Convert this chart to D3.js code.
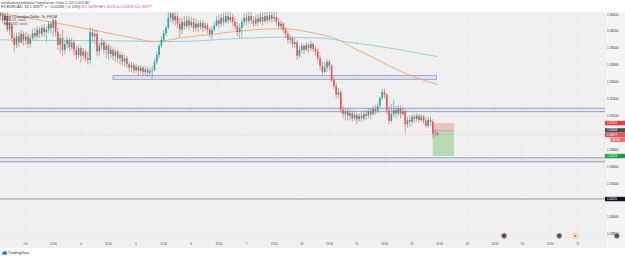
<!DOCTYPE html>
<html>
<head>
<meta charset="utf-8">
<script src="https://cdn.jsdelivr.net/npm/d3@7"></script>
<style>
	html, body { margin: 0; padding: 0; background: #fff; }
	svg { display: block; font-family: "Liberation Sans", Arial, sans-serif; }
</style>
</head>
<body>
<div id="chart"></div>
<script>
// hourly candles, first one is index -11 (before the Oct label), [open, high, low, close]
const firstIndex = -11;
const candles = [
	[1.3638,1.3643,1.3633,1.3641],[1.3641,1.3643,1.3629,1.3633],[1.3633,1.3642,1.3627,1.3638],[1.3638,1.3643,1.3619,1.3622],
	[1.3622,1.3631,1.3616,1.3627],[1.3627,1.3630,1.3607,1.3612],[1.3612,1.3617,1.3596,1.3604],[1.3604,1.3618,1.3600,1.3614],
	[1.3614,1.3619,1.3601,1.3607],[1.3607,1.3622,1.3605,1.3617],[1.3617,1.3620,1.3603,1.3610],
	// Oct 3
	[1.3610,1.3619,1.3604,1.3614],[1.3614,1.3618,1.3600,1.3605],[1.3605,1.3616,1.3601,1.3612],[1.3612,1.3623,1.3609,1.3618],
	[1.3618,1.3624,1.3610,1.3614],[1.3614,1.3626,1.3611,1.3622],[1.3622,1.3625,1.3612,1.3617],[1.3617,1.3627,1.3613,1.3624],
	[1.3624,1.3629,1.3614,1.3619],[1.3619,1.3626,1.3607,1.3622],[1.3622,1.3632,1.3618,1.3629],[1.3629,1.3631,1.3617,1.3624],
	[1.3624,1.3636,1.3614,1.3633],[1.3633,1.3635,1.3614,1.3619],[1.3619,1.3624,1.3598,1.3604],[1.3604,1.3617,1.3594,1.3612],
	[1.3612,1.3622,1.3590,1.3598],[1.3598,1.3610,1.3593,1.3605],[1.3605,1.3614,1.3600,1.3610],[1.3610,1.3612,1.3596,1.3601],
	[1.3601,1.3612,1.3598,1.3607],[1.3607,1.3610,1.3591,1.3598],[1.3598,1.3603,1.3586,1.3592],[1.3592,1.3604,1.3588,1.3600],
	// Oct 4
	[1.3600,1.3603,1.3583,1.3591],[1.3591,1.3600,1.3586,1.3596],[1.3596,1.3598,1.3584,1.3588],[1.3588,1.3596,1.3581,1.3586],
	[1.3586,1.3625,1.3581,1.3619],[1.3619,1.3624,1.3607,1.3614],[1.3614,1.3622,1.3605,1.3617],[1.3617,1.3622,1.3590,1.3596],
	[1.3596,1.3607,1.3591,1.3603],[1.3603,1.3612,1.3598,1.3607],[1.3607,1.3610,1.3593,1.3598],[1.3598,1.3607,1.3588,1.3603],
	[1.3603,1.3605,1.3586,1.3593],[1.3593,1.3603,1.3588,1.3598],[1.3598,1.3601,1.3586,1.3591],[1.3591,1.3599,1.3584,1.3596],
	[1.3596,1.3598,1.3583,1.3588],[1.3588,1.3596,1.3581,1.3592],[1.3592,1.3594,1.3579,1.3584],[1.3584,1.3592,1.3578,1.3588],
	[1.3588,1.3591,1.3577,1.3581],[1.3581,1.3584,1.3572,1.3577],[1.3577,1.3584,1.3572,1.3580],[1.3580,1.3583,1.3570,1.3574],
	// Oct 5
	[1.3574,1.3581,1.3571,1.3578],[1.3578,1.3580,1.3567,1.3573],[1.3573,1.3580,1.3570,1.3577],[1.3577,1.3579,1.3567,1.3572],
	[1.3572,1.3579,1.3568,1.3575],[1.3575,1.3578,1.3566,1.3571],[1.3571,1.3577,1.3567,1.3573],[1.3573,1.3579,1.3564,1.3574],
	[1.3574,1.3588,1.3572,1.3584],[1.3584,1.3596,1.3581,1.3592],[1.3592,1.3605,1.3588,1.3603],[1.3603,1.3614,1.3600,1.3610],
	[1.3610,1.3622,1.3607,1.3618],[1.3618,1.3627,1.3614,1.3624],[1.3624,1.3643,1.3622,1.3636],[1.3636,1.3643,1.3631,1.3641],
	[1.3641,1.3643,1.3629,1.3633],[1.3633,1.3643,1.3626,1.3638],[1.3638,1.3642,1.3624,1.3629],[1.3629,1.3636,1.3613,1.3622],
	[1.3622,1.3636,1.3617,1.3631],[1.3631,1.3638,1.3622,1.3626],[1.3626,1.3639,1.3623,1.3633],[1.3633,1.3638,1.3622,1.3627],
	// Oct 6
	[1.3627,1.3637,1.3624,1.3631],[1.3631,1.3636,1.3619,1.3624],[1.3624,1.3635,1.3620,1.3629],[1.3629,1.3633,1.3619,1.3625],
	[1.3625,1.3633,1.3622,1.3630],[1.3630,1.3633,1.3619,1.3624],[1.3624,1.3631,1.3620,1.3627],[1.3627,1.3630,1.3618,1.3622],
	[1.3622,1.3625,1.3613,1.3617],[1.3617,1.3626,1.3611,1.3622],[1.3622,1.3631,1.3619,1.3627],[1.3627,1.3638,1.3625,1.3633],
	[1.3633,1.3639,1.3624,1.3629],[1.3629,1.3641,1.3626,1.3636],[1.3636,1.3642,1.3627,1.3631],[1.3631,1.3643,1.3629,1.3638],
	[1.3638,1.3643,1.3629,1.3633],[1.3633,1.3642,1.3630,1.3637],[1.3637,1.3641,1.3626,1.3631],[1.3631,1.3636,1.3622,1.3626],
	[1.3626,1.3631,1.3614,1.3619],[1.3619,1.3629,1.3612,1.3624],[1.3624,1.3635,1.3612,1.3631],[1.3631,1.3641,1.3627,1.3636],
	// Oct 7
	[1.3636,1.3642,1.3627,1.3632],[1.3632,1.3643,1.3629,1.3638],[1.3638,1.3643,1.3629,1.3633],[1.3633,1.3638,1.3625,1.3629],
	[1.3629,1.3639,1.3626,1.3635],[1.3635,1.3641,1.3626,1.3631],[1.3631,1.3643,1.3629,1.3637],[1.3637,1.3642,1.3627,1.3632],
	[1.3632,1.3643,1.3630,1.3638],[1.3638,1.3643,1.3629,1.3633],[1.3633,1.3643,1.3631,1.3639],[1.3639,1.3643,1.3630,1.3635],
	[1.3635,1.3643,1.3631,1.3637],[1.3637,1.3643,1.3627,1.3631],[1.3631,1.3636,1.3623,1.3626],[1.3626,1.3633,1.3622,1.3629],
	[1.3629,1.3631,1.3618,1.3622],[1.3622,1.3625,1.3612,1.3617],[1.3617,1.3620,1.3606,1.3610],[1.3610,1.3616,1.3605,1.3612],
	[1.3612,1.3614,1.3601,1.3605],[1.3605,1.3612,1.3600,1.3607],[1.3607,1.3610,1.3586,1.3591],[1.3591,1.3603,1.3588,1.3598],
	// Oct 10
	[1.3598,1.3606,1.3594,1.3603],[1.3603,1.3605,1.3593,1.3598],[1.3598,1.3607,1.3596,1.3604],[1.3604,1.3607,1.3594,1.3600],
	[1.3600,1.3609,1.3597,1.3605],[1.3605,1.3607,1.3596,1.3599],[1.3599,1.3603,1.3591,1.3596],[1.3596,1.3600,1.3584,1.3588],
	[1.3588,1.3592,1.3574,1.3579],[1.3579,1.3584,1.3567,1.3572],[1.3572,1.3584,1.3570,1.3577],[1.3577,1.3587,1.3572,1.3584],
	[1.3584,1.3586,1.3574,1.3579],[1.3579,1.3581,1.3560,1.3562],[1.3562,1.3566,1.3551,1.3555],[1.3555,1.3559,1.3541,1.3545],
	[1.3545,1.3553,1.3541,1.3548],[1.3548,1.3551,1.3523,1.3527],[1.3527,1.3532,1.3517,1.3522],[1.3522,1.3529,1.3515,1.3525],
	[1.3525,1.3528,1.3514,1.3520],[1.3520,1.3527,1.3515,1.3523],[1.3523,1.3526,1.3513,1.3517],[1.3517,1.3525,1.3514,1.3521],
	// Oct 11
	[1.3521,1.3523,1.3510,1.3516],[1.3516,1.3523,1.3513,1.3520],[1.3520,1.3525,1.3512,1.3517],[1.3517,1.3526,1.3514,1.3522],
	[1.3522,1.3527,1.3515,1.3520],[1.3520,1.3529,1.3517,1.3525],[1.3525,1.3529,1.3516,1.3522],[1.3522,1.3532,1.3520,1.3528],
	[1.3528,1.3533,1.3521,1.3526],[1.3526,1.3535,1.3523,1.3532],[1.3532,1.3543,1.3529,1.3541],[1.3541,1.3552,1.3539,1.3548],
	[1.3548,1.3552,1.3541,1.3545],[1.3545,1.3547,1.3522,1.3527],[1.3527,1.3532,1.3510,1.3514],[1.3514,1.3534,1.3512,1.3522],
	[1.3522,1.3539,1.3519,1.3527],[1.3527,1.3532,1.3517,1.3523],[1.3523,1.3533,1.3520,1.3529],[1.3529,1.3532,1.3517,1.3522],
	[1.3522,1.3530,1.3520,1.3525],[1.3525,1.3527,1.3499,1.3510],[1.3510,1.3519,1.3506,1.3515],[1.3515,1.3520,1.3507,1.3513],
	// Oct 12
	[1.3513,1.3521,1.3509,1.3519],[1.3519,1.3522,1.3512,1.3516],[1.3516,1.3523,1.3513,1.3520],[1.3520,1.3522,1.3512,1.3515],
	[1.3515,1.3522,1.3513,1.3519],[1.3519,1.3521,1.3510,1.3514],[1.3514,1.3517,1.3506,1.3508],[1.3508,1.3519,1.3506,1.3515],
	[1.3515,1.3519,1.3508,1.3513],[1.3513,1.3516,1.3493,1.3499],[1.3499,1.3504,1.3495,1.34999],[1.34999,1.35011,1.34958,1.34977]
];

// moving averages, read as [bar index, price]
const ema20 = [[-11,1.3641],[11,1.3631],[32,1.3620],[45,1.3613],[56,1.3608],[63,1.3610],[67,1.3612],[76,1.3615],
	[89,1.3619],[100,1.3622],[111,1.3623],[117,1.3622],[125,1.3618],[135,1.3611],[144,1.3598],[151,1.3589],
	[158,1.3579],[168,1.3567],[179,1.3557]];
const ema200 = [[-11,1.3610],[11,1.3609],[32,1.3609],[55,1.3608],[67,1.3608],[89,1.3611],[111,1.3613],
	[128,1.3612],[141,1.3607],[154,1.3602],[167,1.3596],[179,1.3590]];

// drawings
const boxZone = { from: 38, to: 178.6, top: 1.35675, bottom: 1.35632 };
const bandZones = [[1.35289, 1.35249], [1.34703, 1.34659]];
const lineLevel = 1.34215;
const position = { from: 177, to: 186.2, stop: 1.35114, entry: 1.35024, target: 1.34724 };
const lastPrice = 1.34977;
const countdown = '49:56';

const priceTicks = [1.338, 1.340, 1.342, 1.344, 1.346, 1.348, 1.350, 1.352, 1.354, 1.356, 1.358, 1.360, 1.362, 1.364];
const timeTicks = [[0,'Oct'],[12,'12:00'],[24,'4'],[36,'12:00'],[48,'5'],[60,'12:00'],[72,'6'],[84,'12:00'],
	[96,'7'],[108,'12:00'],[120,'10'],[132,'12:00'],[144,'11'],[156,'12:00'],[168,'12'],[180,'12:00'],
	[192,'13'],[204,'12:00'],[216,'14'],[228,'12:00'],[240,'17']];
const eventBars = [[208,'us'],[232,'us'],[239,'ca'],[257,'us']];

const W = 625, H = 259;
const plot = { left: 0, right: 605, top: 12, bottom: 236 };

const svg = d3.select('#chart').append('svg')
	.attr('width', W).attr('height', H)
	.attr('viewBox', `0 0 ${W} ${H}`);

const x = d3.scaleLinear().domain([0, 179]).range([25.7, 437.4]);
const y = d3.scaleLinear().domain([1.338, 1.364]).range([234.1, 14.4]);

// backgrounds
svg.append('rect').attr('x', 0).attr('y', plot.top).attr('width', W).attr('height', 248 - plot.top).attr('fill', '#f0f0f0');
svg.append('rect').attr('x', plot.right).attr('y', plot.top).attr('width', W - plot.right).attr('height', 248 - plot.top).attr('fill', '#f4f4f4');
svg.append('line').attr('x1', plot.right).attr('x2', plot.right).attr('y1', plot.top).attr('y2', 248).attr('stroke', '#e2e2e2').attr('stroke-width', 0.5);
svg.append('line').attr('x1', 0).attr('x2', W).attr('y1', plot.bottom + 1).attr('y2', plot.bottom + 1).attr('stroke', '#e2e2e2').attr('stroke-width', 0.5);

svg.append('clipPath').attr('id', 'clip')
	.append('rect').attr('x', plot.left).attr('y', plot.top).attr('width', plot.right - plot.left).attr('height', plot.bottom - plot.top);
const g = svg.append('g').attr('clip-path', 'url(#clip)');

// grid
g.selectAll('.hgrid').data(priceTicks).enter().append('line')
	.attr('x1', plot.left).attr('x2', plot.right)
	.attr('y1', d => y(d)).attr('y2', d => y(d))
	.attr('stroke', '#e9e9e9').attr('stroke-width', 0.5);
g.selectAll('.vgrid').data(timeTicks).enter().append('line')
	.attr('x1', d => x(d[0])).attr('x2', d => x(d[0]))
	.attr('y1', plot.top).attr('y2', plot.bottom)
	.attr('stroke', '#e9e9e9').attr('stroke-width', 0.5);

// zones
function zone(x0, x1, top, bottom) {
	g.append('rect')
		.attr('x', x0).attr('y', y(top)).attr('width', x1 - x0).attr('height', y(bottom) - y(top))
		.attr('fill', 'rgba(140,155,205,0.10)').attr('stroke', '#8d9bcb').attr('stroke-width', 0.9);
}
zone(x(boxZone.from), x(boxZone.to), boxZone.top, boxZone.bottom);
bandZones.forEach(b => zone(plot.left - 2, plot.right + 2, b[0], b[1]));
g.append('line').attr('x1', plot.left).attr('x2', plot.right)
	.attr('y1', y(bandZones[1][1]) + 0.6).attr('y2', y(bandZones[1][1]) + 0.6)
	.attr('stroke', '#c5c8d4').attr('stroke-width', 1);
g.append('line').attr('x1', plot.left).attr('x2', plot.right)
	.attr('y1', y(lineLevel)).attr('y2', y(lineLevel))
	.attr('stroke', '#b4b4b4').attr('stroke-width', 1.6);

// moving averages
const line = d3.line().x(d => x(d[0])).y(d => y(d[1])).curve(d3.curveMonotoneX);
g.append('path').datum(ema200).attr('d', line).attr('fill', 'none').attr('stroke', '#86d2d8').attr('stroke-width', 0.9);
g.append('path').datum(ema20).attr('d', line).attr('fill', 'none').attr('stroke', '#f5a56e').attr('stroke-width', 0.9);

// position tool
g.append('rect').attr('x', x(position.from)).attr('width', x(position.to) - x(position.from))
	.attr('y', y(position.stop)).attr('height', y(position.entry) - y(position.stop))
	.attr('fill', 'rgba(240,110,110,0.38)');
g.append('rect').attr('x', x(position.from)).attr('width', x(position.to) - x(position.from))
	.attr('y', y(position.entry)).attr('height', y(position.target) - y(position.entry))
	.attr('fill', 'rgba(110,195,110,0.45)');
g.append('line').attr('x1', x(position.from)).attr('x2', x(position.to))
	.attr('y1', y(position.entry)).attr('y2', y(position.entry))
	.attr('stroke', '#9a9a9a').attr('stroke-width', 0.6);

// last price line
g.append('line').attr('x1', plot.left).attr('x2', plot.right)
	.attr('y1', y(lastPrice)).attr('y2', y(lastPrice))
	.attr('stroke', '#ef5350').attr('stroke-opacity', 0.55).attr('stroke-width', 0.5).attr('stroke-dasharray', '1,1');

// candles
const up = '#26a69a', down = '#ef5350';
const cg = g.selectAll('.candle').data(candles).enter().append('g');
cg.append('line')
	.attr('x1', (d, i) => x(i + firstIndex)).attr('x2', (d, i) => x(i + firstIndex))
	.attr('y1', d => y(d[1])).attr('y2', d => y(d[2]))
	.attr('stroke', d => d[3] >= d[0] ? up : down).attr('stroke-width', 0.6);
cg.append('rect')
	.attr('x', (d, i) => x(i + firstIndex) - 0.8).attr('width', 1.6)
	.attr('y', d => y(Math.max(d[0], d[3])))
	.attr('height', d => Math.max(0.5, Math.abs(y(d[0]) - y(d[3]))))
	.attr('fill', d => d[3] >= d[0] ? up : down);

// price axis (tick labels hidden where a coloured tag sits, like TradingView)
const tagPrices = [lineLevel, position.target, position.stop, position.entry, lastPrice];
svg.selectAll('.ptick').data(priceTicks.filter(t => tagPrices.every(p => Math.abs(y(p) - y(t)) > 4.5))).enter().append('text')
	.attr('x', 607).attr('y', d => y(d) + 1.1)
	.attr('font-size', 3.2).attr('fill', '#333')
	.text(d => d.toFixed(5));

function tag(price, text, color, dy) {
	const yy = y(price) + (dy || 0);
	svg.append('rect').attr('x', 605).attr('y', yy - 2.2).attr('width', W - 605).attr('height', 4.4).attr('fill', color);
	svg.append('text').attr('x', 607).attr('y', yy + 1).attr('font-size', 2.8).attr('fill', '#fff').text(text);
}
tag(lineLevel, lineLevel.toFixed(5), '#131722');
tag(position.target, position.target.toFixed(5), '#1e9e3e');
tag(position.stop, position.stop.toFixed(5), '#f23645');
tag(position.entry, position.entry.toFixed(5), '#4a4d57', -0.3);
tag(lastPrice, lastPrice.toFixed(5), '#ef5350', 0.3);
svg.append('rect').attr('x', 610.5).attr('y', y(lastPrice) + 2.9).attr('width', W - 610.5).attr('height', 4.4).attr('fill', '#f07070');
svg.append('text').attr('x', 612.3).attr('y', y(lastPrice) + 6.1).attr('font-size', 2.8).attr('fill', '#fff').text(countdown);

// time axis
svg.selectAll('.ttick').data(timeTicks).enter().append('text')
	.attr('x', d => x(d[0])).attr('y', 245)
	.attr('text-anchor', 'middle').attr('font-size', 2.7).attr('fill', '#333')
	.text(d => d[1]);

// event markers
eventBars.forEach(e => {
	const cx = x(e[0]), cy = 235.8;
	svg.append('circle').attr('cx', cx).attr('cy', cy).attr('r', 2.6)
		.attr('fill', e[1] === 'ca' ? '#fff' : '#3b4c9a').attr('stroke', '#f3a95a').attr('stroke-width', 0.8);
	if (e[1] === 'ca') {
		svg.append('circle').attr('cx', cx).attr('cy', cy).attr('r', 1).attr('fill', '#e53935');
	}
});

// header
svg.append('text').attr('x', 1).attr('y', 4.2).attr('font-size', 3.1).attr('fill', '#333')
	.attr('textLength', 89).attr('lengthAdjust', 'spacingAndGlyphs')
	.text('aaronallenbaump published on TradingView.com, October 12, 2022 11:40:32 BST');
const head2 = svg.append('text').attr('x', 1).attr('y', 8.4).attr('font-size', 3.1).attr('fill', '#333')
	.attr('textLength', 151).attr('lengthAdjust', 'spacingAndGlyphs');
[['FX:EURCAD, 60 1.34977 ', '#333'], ['▼ ', '#ef5350'], ['−0.00183 (−0.14%) O:', '#333'], ['1.34999', '#ef5350'],
	[' H:', '#333'], ['1.35011', '#ef5350'], [' L:', '#333'], ['1.34958', '#ef5350'], [' C:', '#333'], ['1.34977', '#ef5350']]
	.forEach(p => head2.append('tspan').attr('fill', p[1]).text(p[0]));

// legend
svg.append('text').attr('x', 4).attr('y', 17.8).attr('font-size', 3.2).attr('fill', '#222')
	.attr('textLength', 53).attr('lengthAdjust', 'spacingAndGlyphs').text('Euro / Canadian Dollar, 1h, FXCM');
svg.append('text').attr('x', 4).attr('y', 21.4).attr('font-size', 3).attr('fill', '#444')
	.attr('textLength', 22).attr('lengthAdjust', 'spacingAndGlyphs').text('EMA (20, close)');
svg.append('text').attr('x', 4).attr('y', 25).attr('font-size', 3).attr('fill', '#444')
	.attr('textLength', 23.5).attr('lengthAdjust', 'spacingAndGlyphs').text('EMA (200, close)');

// footer logo
const logo = svg.append('g').attr('transform', 'translate(2,251)');
logo.append('rect').attr('x', 0).attr('y', 1.6).attr('width', 5).attr('height', 2.2).attr('rx', 0.8).attr('fill', '#2a7fd4');
logo.append('circle').attr('cx', 1.7).attr('cy', 1.8).attr('r', 1.2).attr('fill', '#2a7fd4');
logo.append('circle').attr('cx', 3.4).attr('cy', 1.4).attr('r', 1.4).attr('fill', '#2a7fd4');
svg.append('text').attr('x', 8).attr('y', 254.4).attr('font-size', 3.2).attr('fill', '#333')
	.attr('textLength', 21).attr('lengthAdjust', 'spacingAndGlyphs').text('TradingView');
</script>
</body>
</html>
